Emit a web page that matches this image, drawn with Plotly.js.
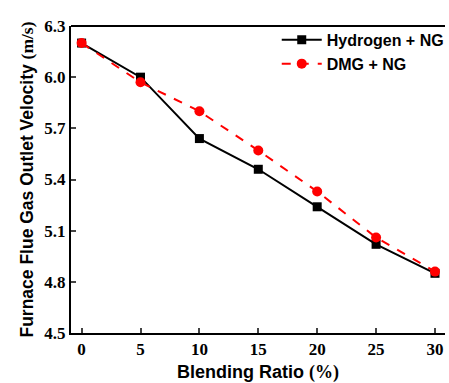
<!DOCTYPE html>
<html><head><meta charset="utf-8">
<script src="https://cdn.plot.ly/plotly-3.0.1.min.js"></script>
<style>html,body{margin:0;padding:0;background:#fff}</style>
</head><body>
<div id="chart" style="width:449px;height:383px"></div>
<script>
const blendingRatio = [0, 5, 10, 15, 20, 25, 30];
const hydrogenNG = [6.2, 6.0, 5.64, 5.46, 5.24, 5.02, 4.85];
const dmgNG = [6.2, 5.97, 5.80, 5.57, 5.33, 5.06, 4.86];
const yTicks = [4.5, 4.8, 5.1, 5.4, 5.7, 6.0, 6.3];
const yTickLabels = ['4.5', '4.8', '5.1', '5.4', '5.7', '6.0', '6.3'];
const xTicks = [0, 5, 10, 15, 20, 25, 30];
const xTickLabels = ['0', '5', '10', '15', '20', '25', '30'];

const bold = a => a.map(s => '<b>' + s + '</b>');

const traces = [
  {x: blendingRatio, y: hydrogenNG, name: '<b>Hydrogen + NG</b>', mode: 'lines+markers',
   line: {color: '#000', width: 2}, marker: {symbol: 'square', size: 9, color: '#000'}},
  {x: blendingRatio, y: dmgNG, name: '<b>DMG + NG</b>', mode: 'lines+markers',
   line: {color: '#ff0000', width: 2, dash: 'dash'}, marker: {symbol: 'circle', size: 10, color: '#ff0000'}}
];

const layout = {
  width: 449, height: 383,
  margin: {l: 71, r: 0, t: 26, b: 50},
  paper_bgcolor: '#fff', plot_bgcolor: '#fff',
  showlegend: true,
  legend: {x: 1.01, xanchor: 'right', y: 1.01, yanchor: 'top', bgcolor: 'rgba(0,0,0,0)',
           font: {family: 'Liberation Sans, Arial', size: 16, color: '#000'}, tracegroupgap: 0, itemwidth: 40},
  xaxis: {range: [-0.9, 30.85], tickvals: xTicks, ticktext: bold(xTickLabels), ticks: 'inside', ticklen: 5, tickwidth: 2,
          showline: true, linewidth: 2, linecolor: '#000', mirror: false, showgrid: false, zeroline: false,
          tickfont: {family: 'Liberation Serif, Times New Roman', size: 17, color: '#000'},
          title: {text: "<b>Blending Ratio </b><span style=\"font-family:'Liberation Serif'\"><b>(%)</b></span>",
                  font: {family: 'Liberation Sans, Arial', size: 18, color: '#000'}, standoff: 8}},
  yaxis: {range: [4.5, 6.3], tickvals: yTicks, ticktext: bold(yTickLabels), ticks: 'inside', ticklen: 5, tickwidth: 2,
          showline: true, linewidth: 2, linecolor: '#000', showgrid: false, zeroline: false,
          tickfont: {family: 'Liberation Serif, Times New Roman', size: 17, color: '#000'},
          title: {text: "<b>Furnace Flue Gas Outlet Velocity </b><span style=\"font-family:'Liberation Serif'\"><b>(m/s)</b></span>",
                  font: {family: 'Liberation Sans, Arial', size: 17.5, color: '#000'}, standoff: 6}},
  shapes: [{type: 'line', xref: 'paper', yref: 'paper', x0: 0, x1: 1, y0: 1, y1: 1, line: {color: '#000', width: 2}}]
};
Plotly.newPlot('chart', traces, layout, {displayModeBar: false, staticPlot: true});
</script>
</body></html>
